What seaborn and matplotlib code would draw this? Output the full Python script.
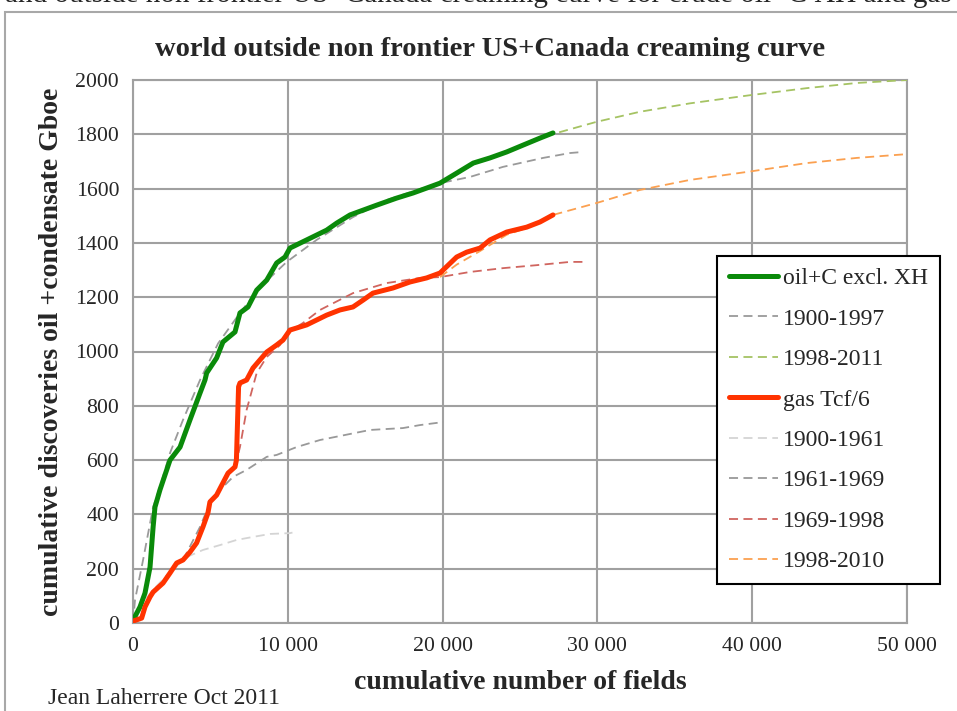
import pandas as pd
import matplotlib
matplotlib.use("Agg")
import matplotlib.pyplot as plt
import seaborn as sns
from matplotlib.patches import Rectangle

# =========================
# DATA
# =========================
oil_x = [0, 450, 775, 1100, 1300, 1420, 1740, 2390, 3040, 3680, 4330, 4650, 4760,
         5400, 5810, 6590, 6910, 7430, 7990, 8640, 9280, 9820, 10140, 11220, 12510,
         13160, 14020, 14880, 15740, 17030, 18100, 18970, 19830, 20910, 21980, 23060,
         24140, 25190, 26290, 27130]
oil_y = [10, 59, 110, 206, 354, 427, 490, 600, 648, 748, 847, 895, 921,
         976, 1035, 1072, 1142, 1164, 1226, 1263, 1326, 1348, 1381, 1411, 1447,
         1473, 1503, 1521, 1539, 1565, 1584, 1602, 1620, 1657, 1694, 1713,
         1735, 1760, 1786, 1805]

oil_9097_x = [0, 130, 650, 1300, 1740, 2390, 3230, 4330, 5500, 6910, 8200, 9930, 11860,
              14210, 16380, 18740, 19830, 21770, 23900, 26490, 28230, 29070]
oil_9097_y = [0, 85, 232, 427, 501, 626, 748, 895, 1030, 1142, 1237, 1330, 1411,
              1495, 1558, 1602, 1620, 1643, 1680, 1713, 1731, 1735]

oil_9811_x = [19830, 20910, 21980, 23060, 24140, 25190, 26290, 27130, 29950, 32750,
              35980, 39860, 43520, 46750, 50000]
oil_9811_y = [1620, 1652, 1690, 1710, 1732, 1757, 1783, 1801, 1846, 1883,
              1914, 1944, 1970, 1989, 2000]

gas_x = [0, 560, 775, 1100, 1300, 1940, 2390, 2820, 3230, 3680, 4110, 4520, 4840, 4970,
         5400, 5810, 6140, 6590, 6680, 6820, 6910, 7340, 7750, 8200, 8640, 9280, 9690,
         10140, 11220, 12510, 13370, 14210, 14880, 15500, 16800, 17890, 18970, 19830,
         20910, 21560, 22420, 23060, 24140, 25430, 26290, 27130]
gas_y = [7, 18, 59, 96, 114, 147, 184, 221, 232, 261, 295, 354, 405, 446,
         471, 516, 552, 575, 600, 870, 884, 895, 939, 969, 998, 1024, 1042,
         1079, 1098, 1134, 1153, 1164, 1190, 1215, 1234, 1256, 1271, 1289,
         1348, 1366, 1381, 1411, 1440, 1458, 1477, 1503]

gas_0061_x = [0, 130, 1300, 2390, 3470, 4520, 5620, 6700, 7750, 8850, 10140, 10300]
gas_0061_y = [0, 37, 122, 188, 243, 269, 287, 306, 317, 328, 331, 333]

gas_6169_x = [3230, 4330, 4970, 5620, 6460, 7340, 8640, 9280, 10570, 12080, 15310,
              17440, 18540, 20030]
gas_6169_y = [232, 354, 442, 490, 538, 564, 612, 619, 648, 674, 711,
              718, 729, 740]

gas_6998_x = [6590, 6910, 7340, 7990, 8640, 9500, 9930, 10980, 12080, 14210, 16380,
              18540, 19830, 21770, 23900, 26080, 28230, 29070]
gas_6998_y = [575, 648, 785, 921, 980, 1024, 1068, 1105, 1153, 1215, 1252,
              1271, 1274, 1293, 1307, 1318, 1330, 1330]

gas_9810_x = [19830, 20910, 22420, 24140, 25430, 27130, 29950, 32750, 35980, 39860,
              43520, 46750, 50000]
gas_9810_y = [1274, 1320, 1370, 1430, 1455, 1503, 1547, 1595, 1632, 1663,
              1694, 1713, 1727]

x_ticks = [0, 10000, 20000, 30000, 40000, 50000]
x_tick_labels = ["0", "10 000", "20 000", "30 000", "40 000", "50 000"]
y_ticks = list(range(0, 2001, 200))

# =========================
# STYLE
# =========================
sns.set_style("white")
plt.rcParams["font.family"] = ["Liberation Serif", "DejaVu Serif"]

fig = plt.figure(figsize=(9.57, 7.11), dpi=100)
ax = fig.add_axes([133 / 957, 1 - 623 / 711, (907 - 133) / 957, (623 - 80) / 711])

DASH = (0, (5, 3))
series = [
    (oil_x, oil_y, "oil+C excl. XH", "#0a8a0a", 3.6, "-", 5),
    (oil_9097_x, oil_9097_y, "1900-1997", "#9a9a9a", 1.3, DASH, 3),
    (oil_9811_x, oil_9811_y, "1998-2011", "#a5c363", 1.3, DASH, 4),
    (gas_x, gas_y, "gas Tcf/6", "#ff3300", 3.6, "-", 5),
    (gas_0061_x, gas_0061_y, "1900-1961", "#d4d4d4", 1.3, DASH, 3),
    (gas_6169_x, gas_6169_y, "1961-1969", "#999999", 1.3, DASH, 3),
    (gas_6998_x, gas_6998_y, "1969-1998", "#d0655f", 1.3, DASH, 4),
    (gas_9810_x, gas_9810_y, "1998-2010", "#fba050", 1.3, DASH, 4),
]

handles = []
for xs, ys, name, col, lw, ls, z in series:
    df = pd.DataFrame({"x": xs, "y": ys})
    sns.lineplot(data=df, x="x", y="y", ax=ax, color=col, linewidth=lw,
                 linestyle=ls, sort=False, estimator=None, zorder=z,
                 solid_capstyle="round")
    handles.append(ax.lines[-1])

ax.set_xlim(0, 50000)
ax.set_ylim(0, 2000)
ax.set_xticks(x_ticks)
ax.set_xticklabels(x_tick_labels)
ax.set_yticks(y_ticks)
ax.grid(True, color="#a0a0a0", linewidth=1.5)
ax.set_axisbelow(True)
for sp in ax.spines.values():
    sp.set_color("#a0a0a0")
    sp.set_linewidth(1.5)
ax.tick_params(axis="both", length=5, width=1.5, color="#a0a0a0",
               labelsize=15.7, pad=5, direction="out")
ax.set_xlabel("cumulative number of fields", fontsize=20, fontweight="bold", labelpad=10)
ax.set_ylabel("cumulative discoveries oil +condensate Gboe", fontsize=20,
              fontweight="bold", labelpad=8)

fig.text(490 / 957, 1 - 50 / 711, "world outside non frontier US+Canada creaming curve",
         ha="center", va="center", fontsize=20.5, fontweight="bold")
fig.text(48 / 957, 1 - 698 / 711, "Jean Laherrere Oct 2011", ha="left", va="center",
         fontsize=17)
# first line of the page above the chart, cut off in the source
fig.text(0.5, 1 - 2 / 711,
         "and outside non frontier US+Canada creaming curve for crude oil+C XH and gas",
         ha="center", va="baseline", fontsize=21)

# chart border (cut off on the right and bottom like the source)
fig.patches.append(Rectangle((5 / 957, -0.1), 1.2, 1 - 12 / 711 + 0.1,
                             transform=fig.transFigure, fill=False,
                             edgecolor="#a8a8a8", linewidth=1.5))

leg = ax.legend(handles, [s[2] for s in series], loc="upper left",
                bbox_to_anchor=(717 / 957, 1 - 256 / 711), bbox_transform=fig.transFigure,
                borderaxespad=0, fancybox=False, framealpha=1, edgecolor="black",
                fontsize=17, handlelength=2.1, handletextpad=0.2, labelspacing=0.8,
                borderpad=0.5)
leg.get_frame().set_linewidth(1.5)
leg.set_zorder(10)

fig.savefig("out.png", dpi=100)
